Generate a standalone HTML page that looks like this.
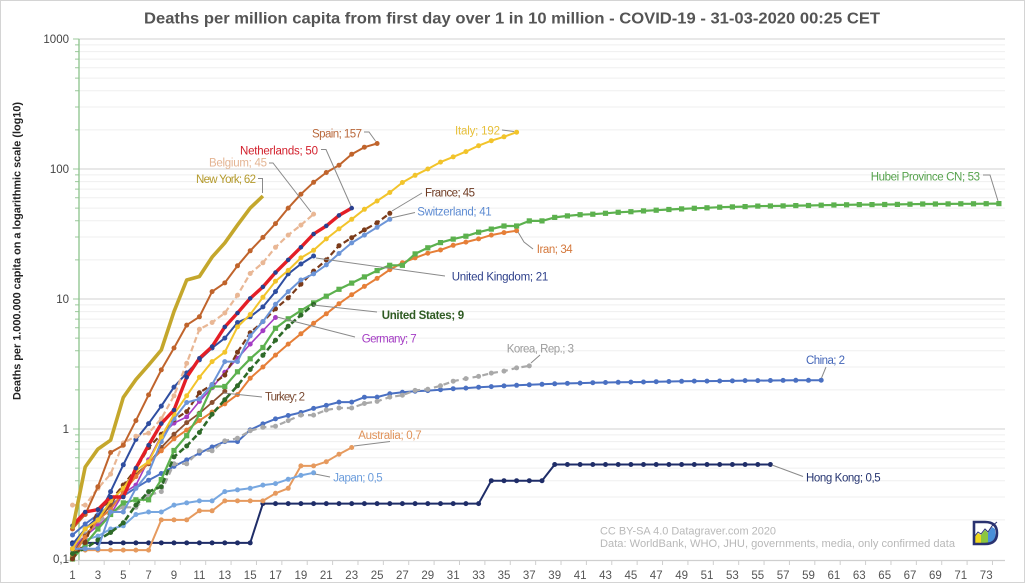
<!DOCTYPE html>
<html>
<head>
<meta charset="utf-8">
<style>
html,body{margin:0;padding:0;background:#fff;}
svg{display:block;font-family:"Liberation Sans",sans-serif;}
</style>
</head>
<body>
<svg id="chart" xmlns="http://www.w3.org/2000/svg" width="1025" height="583" viewBox="0 0 1025 583">
<rect x="0" y="0" width="1025" height="583" fill="#fff"/>
<rect x="0.5" y="0.5" width="1024" height="582" fill="none" stroke="#d4d4d4" stroke-width="1"/>

<!-- title -->
<text x="512" y="23.5" text-anchor="middle" font-size="16" font-weight="bold" fill="#555" textLength="736" lengthAdjust="spacingAndGlyphs">Deaths per million capita from first day over 1 in 10 million  - COVID-19 - 31-03-2020 00:25 CET</text>

<!-- minor gridlines -->
<path fill="none" stroke="#efefef" stroke-width="1" d="
M79,519.9H1005M79,497H1005M79,480.7H1005M79,468.1H1005M79,457.8H1005M79,449.1H1005M79,441.6H1005M79,434.9H1005
M79,389.9H1005M79,367H1005M79,350.7H1005M79,338.1H1005M79,327.8H1005M79,319.1H1005M79,311.6H1005M79,304.9H1005
M79,259.9H1005M79,237H1005M79,220.7H1005M79,208.1H1005M79,197.8H1005M79,189.1H1005M79,181.6H1005M79,174.9H1005
M79,129.9H1005M79,107H1005M79,90.7H1005M79,78.1H1005M79,67.8H1005M79,59.1H1005M79,51.6H1005M79,44.9H1005"/>
<!-- major gridlines -->
<path fill="none" stroke="#dadada" stroke-width="1.2" d="M79,429H1005M79,299H1005M79,169H1005M79,39H1005"/>
<!-- y minor ticks -->
<path fill="none" stroke="#9cc99c" stroke-width="1" d="
M75,519.9H79M75,497H79M75,480.7H79M75,468.1H79M75,457.8H79M75,449.1H79M75,441.6H79M75,434.9H79
M75,389.9H79M75,367H79M75,350.7H79M75,338.1H79M75,327.8H79M75,319.1H79M75,311.6H79M75,304.9H79
M75,259.9H79M75,237H79M75,220.7H79M75,208.1H79M75,197.8H79M75,189.1H79M75,181.6H79M75,174.9H79
M75,129.9H79M75,107H79M75,90.7H79M75,78.1H79M75,67.8H79M75,59.1H79M75,51.6H79M75,44.9H79
M73,429H79M73,299H79M73,169H79M73,39H79"/>

<!-- x axis -->
<line x1="66" y1="560.5" x2="1005" y2="560.5" stroke="#cfcfcf" stroke-width="1.2"/>
<line x1="78.3" y1="563" x2="1006" y2="563" stroke="#cfcfcf" stroke-width="4" stroke-dasharray="1 24.38"/>
<!-- y axis line (green) -->
<line x1="79" y1="39" x2="79" y2="560" stroke="#8cc48c" stroke-width="1.3"/>

<!-- y tick labels -->
<g font-size="11.5" fill="#444" text-anchor="end">
<text x="69" y="43">1000</text>
<text x="69" y="173">100</text>
<text x="69" y="303">10</text>
<text x="69" y="433">1</text>
<text x="69" y="563">0,1</text>
</g>

<!-- y axis title -->
<text transform="translate(20.5,251) rotate(-90)" text-anchor="middle" font-size="11" font-weight="bold" fill="#222" textLength="298" lengthAdjust="spacingAndGlyphs">Deaths per 1.000.000 capita on a logarithmic scale (log10)</text>

<!-- x tick labels -->
<g font-size="11.5" fill="#555" text-anchor="middle">
<text x="72.5" y="579">1</text><text x="97.9" y="579">3</text><text x="123.3" y="579">5</text><text x="148.6" y="579">7</text><text x="174" y="579">9</text><text x="199.4" y="579">11</text><text x="224.8" y="579">13</text><text x="250.2" y="579">15</text><text x="275.5" y="579">17</text><text x="300.9" y="579">19</text><text x="326.3" y="579">21</text><text x="351.7" y="579">23</text><text x="377.1" y="579">25</text><text x="402.4" y="579">27</text><text x="427.8" y="579">29</text><text x="453.2" y="579">31</text><text x="478.6" y="579">33</text><text x="504" y="579">35</text><text x="529.3" y="579">37</text><text x="554.7" y="579">39</text><text x="580.1" y="579">41</text><text x="605.5" y="579">43</text><text x="630.9" y="579">45</text><text x="656.2" y="579">47</text><text x="681.6" y="579">49</text><text x="707" y="579">51</text><text x="732.4" y="579">53</text><text x="757.8" y="579">55</text><text x="783.1" y="579">57</text><text x="808.5" y="579">59</text><text x="833.9" y="579">61</text><text x="859.3" y="579">63</text><text x="884.7" y="579">65</text><text x="910" y="579">67</text><text x="935.4" y="579">69</text><text x="960.8" y="579">71</text><text x="986.2" y="579">73</text>
</g>

<!-- footer -->
<g font-size="11" fill="#b8b8b8">
<text x="600" y="534.5" textLength="176" lengthAdjust="spacingAndGlyphs">CC BY-SA 4.0  Datagraver.com 2020</text>
<text x="600" y="547" textLength="355" lengthAdjust="spacingAndGlyphs">Data: WorldBank, WHO, JHU, governments, media, only confirmed data</text>
</g>

<!-- logo -->
<g>
<path d="M974,522 H985 Q997,522 997,533 Q997,544 985,544 H974 Z" fill="#fff"/>
<polygon points="974,544 974,537 978,533 981,535 981,544" fill="#f0d81c"/>
<polygon points="981,544 981,535 985,530 988,533 988,544" fill="#8cc63f"/>
<polygon points="988,544 988,533 992,527 995,529 996,540 992,544" fill="#4a8fd8"/>
<polyline points="974,537 978,532 981,534 985,529 988,532 992,526 997,522" fill="none" stroke="#2a3270" stroke-width="1"/>
<path d="M974,522 H985 Q997,522 997,533 Q997,544 985,544 H974 Z" fill="none" stroke="#2a3270" stroke-width="2.6"/>
</g>

<!-- series get inserted here -->
<g id="series"></g>

<!-- leader lines -->
<path fill="none" stroke="#8a8a8a" stroke-width="1" d="
M364,132H369L375.5,141
M321,149.5H326L351,206
M269,163H273L311,212
M258,178.5H262.5V193
M502,130L514,131.5
M422,193L392,211
M415,212.5L391,218
M518,232L524,242L533,249
M316,258L445,276
M983,175H990L998,201
M826,367L821.5,378
M313,305L377,312
M277,317L355,337
M224,393L262,397
M531,363L540,355
M354,446L390,441.5
M315,474L330,477
M772,465L803,476.5"/>

<!-- series labels -->
<g font-size="11.5" lengthAdjust="spacingAndGlyphs">
<text x="312" y="137.5" fill="#b9683b" textLength="50">Spain; 157</text>
<text x="240" y="154.5" fill="#d2202c" textLength="78">Netherlands; 50</text>
<text x="209" y="166.5" fill="#e4b594" textLength="58">Belgium; 45</text>
<text x="196" y="183" fill="#b49a2c" textLength="60">New York; 62</text>
<text x="455" y="134.5" fill="#e7c03a" textLength="45">Italy; 192</text>
<text x="425" y="196.5" fill="#6e3a22" textLength="50">France; 45</text>
<text x="417.3" y="215.5" fill="#5d8bd2" textLength="74.4">Switzerland; 41</text>
<text x="536.7" y="253" fill="#d4783c" textLength="36">Iran; 34</text>
<text x="451.7" y="280.5" fill="#2d3f8a" textLength="96.6">United Kingdom; 21</text>
<text x="870.7" y="180.5" fill="#55a24c" textLength="109.3">Hubei Province CN; 53</text>
<text x="806" y="364" fill="#4466b8" textLength="39">China; 2</text>
<text x="381.7" y="319" fill="#2e5a22" font-weight="bold" textLength="82.5">United States; 9</text>
<text x="361.7" y="342.3" fill="#a43cc4" textLength="55">Germany; 7</text>
<text x="265" y="400.5" fill="#7a4a32" textLength="40">Turkey; 2</text>
<text x="506.7" y="352.3" fill="#9c9c9c" textLength="67.3">Korea, Rep.; 3</text>
<text x="358.3" y="439" fill="#e0935a" textLength="63.4">Australia; 0,7</text>
<text x="333.3" y="481.3" fill="#6c9ddc" textLength="49.4">Japan; 0,5</text>
<text x="806" y="481.3" fill="#263571" textLength="74.7">Hong Kong; 0,5</text>
</g>
</svg>

<script>
(function(){
var NS="http://www.w3.org/2000/svg";
function X(d){return 72.5+(d-1)*12.69;}
function Y(v){return 39+(3-Math.log10(v))*130;}
function rep(v,n){var a=[];for(var i=0;i<n;i++)a.push(v);return a;}
var hubeiRaw=[0.1,0.13,0.17,0.22,0.27,0.28,0.28,0.4,0.67,0.87,1.27,2.08,2.08,2.7,3.4,4.15,5.83,6.9,7.98,9.15,10.3,11.65,13,14.5,16.2,17.8,17.8,21.8,24.3,26.6,28.3,29.8,32,33.8,35.7,35.7,39.1,39.1,41.6,42.7,43.6,44,44.7,45.5,46,46.7,47.25,47.85,48.4,48.85,49.3,49.8,50.1,50.4,50.8,50.9,51,51.25,51.4,51.65,51.85,52,52.2,52.2,52.3,52.4,52.55,52.7,52.7,52.8,52.9,52.95,53,53.1];
var hubei=hubeiRaw.map(function(v,i){return i<5?v:v*1.02;});
var series=[
 {n:"HK",c:"#1f2d68",w:2,d:[].concat(rep(0.133,15),rep(0.267,18),rep(0.4,5),rep(0.533,18))},
 {n:"AU",c:"#e69a5e",w:2,d:[].concat(rep(0.117,7),rep(0.2,3),rep(0.235,2),rep(0.28,4),[0.32,0.35,0.52,0.52,0.56,0.64,0.72])},
 {n:"JP",c:"#77a7e0",w:2,d:[0.12,0.14,0.15,0.17,0.18,0.22,0.23,0.23,0.26,0.27,0.28,0.28,0.33,0.34,0.35,0.37,0.38,0.41,0.44,0.46]},
 {n:"CN",c:"#4a70c2",w:2,d:[0.153,0.186,0.219,0.26,0.306,0.353,0.404,0.455,0.516,0.578,0.65,0.727,0.8,0.8,0.984,1.094,1.196,1.27,1.34,1.44,1.52,1.61,1.61,1.756,1.758,1.865,1.916,1.953,1.974,2.006,2.04,2.065,2.095,2.119,2.145,2.168,2.188,2.209,2.228,2.244,2.256,2.272,2.28,2.285,2.294,2.301,2.311,2.321,2.329,2.335,2.337,2.34,2.345,2.355,2.355,2.36,2.363,2.368,2.371,2.373]},
 {n:"KR",c:"#a9a9a9",w:2.2,dash:"6 4",d:[0.116,0.155,0.19,0.23,0.25,0.25,0.31,0.33,0.54,0.54,0.68,0.68,0.81,0.85,0.97,1.03,1.05,1.16,1.28,1.28,1.4,1.45,1.45,1.57,1.63,1.76,1.82,1.98,2.02,2.15,2.33,2.44,2.54,2.69,2.79,2.95,3.06]},
 {n:"DE",c:"#a43cc4",w:1.6,d:[0.12,0.15,0.18,0.22,0.32,0.37,0.58,0.89,1.11,1.24,1.63,2.08,2.73,3.5,4.5,5.7,7.2]},
 {n:"TR",c:"#8b5030",w:1.8,d:[0.11,0.15,0.2,0.26,0.37,0.45,0.54,0.72,0.91,1.12,1.32,1.6,1.95]},
 {n:"IR",c:"#e67f38",w:2,d:[0.105,0.147,0.2,0.24,0.33,0.43,0.55,0.68,0.84,0.98,1.16,1.35,1.56,1.84,2.46,3.0,3.7,4.5,5.4,6.5,7.7,9.2,10.8,12.5,14.4,16.8,19,20.7,22.5,23.8,25.9,27.4,29,31,32.4,33.5]},
 {n:"HB",c:"#5cb14e",w:2.2,sq:1,d:hubei},
 {n:"US",c:"#2e6a28",w:2.6,dash:"6 3",d:[0.11,0.12,0.14,0.16,0.19,0.26,0.33,0.36,0.61,0.74,0.94,1.3,1.68,2.15,2.87,3.69,4.82,6.18,7.52,9.08]},
 {n:"FR",c:"#7b3b1a",w:2.2,dash:"6 3",d:[0.1,0.134,0.24,0.28,0.37,0.49,0.72,0.91,1.18,1.36,1.9,2.2,2.6,3.9,5.5,6.7,8.4,10.2,13,16.4,20,25.7,29.6,34,38.6,45.6]},
 {n:"CH",c:"#6c95d8",w:2,d:[0.12,0.12,0.12,0.23,0.23,0.35,0.46,0.8,1.2,1.6,1.7,2.2,3.3,3.3,5.2,6.7,9.1,11.4,14,15.6,18.3,22.4,27,31,35.6,41]},
 {n:"UK",c:"#2f4ea0",w:2,d:[0.13,0.17,0.21,0.33,0.53,0.83,1.1,1.5,2.1,2.7,3.4,4.2,5,6.6,7.3,8.7,11.4,15.6,18.6,21.4]},
 {n:"IT",c:"#f2c42b",w:2,d:[0.12,0.17,0.2,0.28,0.35,0.48,0.56,0.87,1.3,1.8,2.5,3.3,3.9,6.1,7.6,10.3,13.7,16.6,20.7,23.7,29,34.6,41,49,56.7,66,78.7,89.5,100,113,124,136,151,165,177,192]},
 {n:"BE",c:"#e9b795",w:2.2,dash:"6 3",d:[0.26,0.26,0.35,0.45,0.78,0.88,0.93,1.2,1.8,3.2,5.85,6.6,7.8,10.7,15.7,19,25,31,37,45]},
 {n:"ES",c:"#c0642c",w:2,d:[0.17,0.22,0.36,0.66,0.75,1.16,1.83,2.85,4.2,6.3,7.3,11.4,13.3,18,23.5,29.8,38,50,64,79,94,107,130,147,157]},
 {n:"NL",c:"#e41e26",w:3.4,mc:"#2a3f8f",d:[0.18,0.23,0.24,0.3,0.3,0.5,0.75,1.1,1.4,2.5,3.5,4.3,6.1,7.8,10.1,12.4,16,20,25,31.6,36.5,44,50]},
 {n:"NY",c:"#c4a72c",w:3.6,nom:1,d:[0.17,0.51,0.7,0.82,1.75,2.4,3.1,4.05,8,14,14.9,21,27,37,50,62]}
];
var g=document.getElementById("series");
series.forEach(function(s){
  var pts=s.d.map(function(v,i){return X(i+1).toFixed(1)+","+Y(v).toFixed(1);}).join(" ");
  var pl=document.createElementNS(NS,"polyline");
  pl.setAttribute("points",pts);
  pl.setAttribute("fill","none");
  pl.setAttribute("stroke",s.c);
  pl.setAttribute("stroke-width",s.w);
  pl.setAttribute("stroke-linejoin","round");
  if(s.dash)pl.setAttribute("stroke-dasharray",s.dash);
  g.appendChild(pl);
  if(s.nom)return;
  var mc=s.mc||s.c;
  s.d.forEach(function(v,i){
    var x=X(i+1),y=Y(v),m;
    if(s.sq){
      m=document.createElementNS(NS,"rect");
      m.setAttribute("x",(x-2.6).toFixed(1));m.setAttribute("y",(y-2.6).toFixed(1));
      m.setAttribute("width","5.2");m.setAttribute("height","5.2");
    }else{
      m=document.createElementNS(NS,"circle");
      m.setAttribute("cx",x.toFixed(1));m.setAttribute("cy",y.toFixed(1));
      m.setAttribute("r",s.n==="NL"?"2.3":"2.5");
    }
    m.setAttribute("fill",mc);
    g.appendChild(m);
  });
});
})();
</script>
</body>
</html>
